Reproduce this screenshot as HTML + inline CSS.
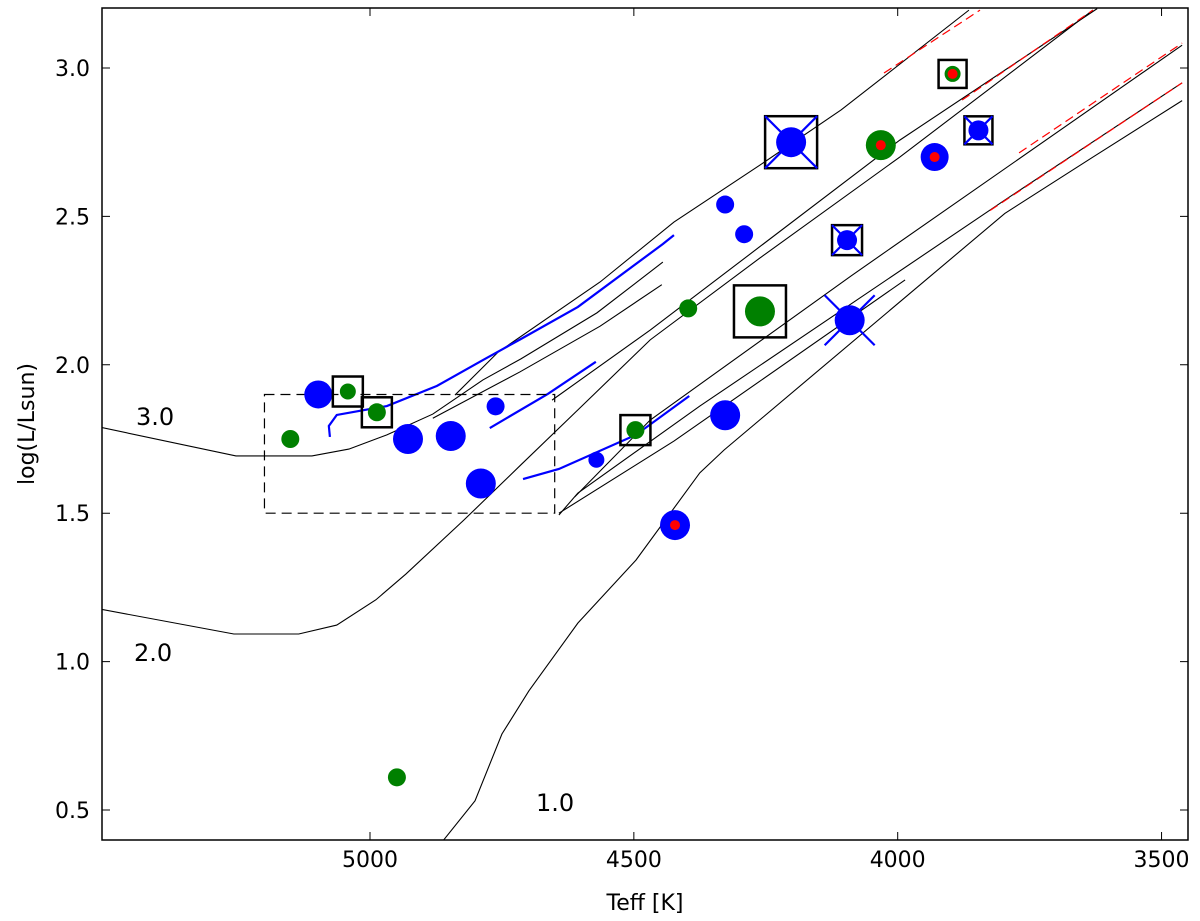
<!DOCTYPE html>
<html><head><meta charset="utf-8"><style>
body{margin:0;background:#fff;}
svg{display:block;font-family:"DejaVu Sans","Liberation Sans",sans-serif;}
</style></head><body>
<svg id="chart" width="1200" height="921" viewBox="0 0 1200 921" xmlns="http://www.w3.org/2000/svg"></svg>
<script>
const xTicks=[5000,4500,4000,3500];
const yTicks=[0.5,1.0,1.5,2.0,2.5,3.0];
const track3=[[5512,1.79],[5254,1.693],[5110,1.693],[5040,1.716],[4968,1.764],[4881,1.834],[4786,1.949],[4714,2.02],[4570,2.175],[4445,2.346]];
const track3u=[[4839,1.898],[4757,2.043],[4564,2.279],[4424,2.481],[4261,2.673],[4107,2.859],[3865,3.195]];
const track3b=[[4881,1.82],[4716,1.976],[4564,2.13],[4447,2.27]];
const track2=[[5512,1.177],[5258,1.093],[5135,1.093],[5063,1.123],[4989,1.208],[4932,1.295],[4822,1.477],[4714,1.663],[4606,1.848],[4469,2.084],[4261,2.36],[3996,2.70],[3630,3.195]];
const track2b=[[4655,1.881],[4469,2.117],[3996,2.757],[3622,3.2]];
const track1=[[4860,0.40],[4801,0.531],[4750,0.756],[4699,0.901],[4606,1.13],[4496,1.342],[4375,1.636],[4329,1.713],[3797,2.51],[3630,2.70],[3461,2.89]];
const track1b=[[4642,1.494],[4606,1.568],[4375,1.861],[3797,2.555],[3461,2.95]];
const track1c=[[4642,1.50],[4424,1.743],[3986,2.286]];
const track1d=[[4612,1.555],[4469,1.814],[4088,2.30],[3461,3.077]];
const blue1=[[5076,1.757],[5078,1.794],[5063,1.831],[4968,1.861],[4873,1.929],[4786,2.016],[4714,2.087],[4606,2.195],[4445,2.407],[4424,2.437]];
const blue2=[[4773,1.787],[4663,1.902],[4572,2.01]];
const blue3=[[4710,1.615],[4642,1.649],[4496,1.764],[4395,1.895]];
const redTracks=[[[4026,2.983],[3844,3.195]],[[3878,2.892],[3630,3.195]],[[3770,2.714],[3461,3.084]],[[3825,2.52],[3461,2.95]]];
const blueT=[5098,4928,4847,4790,4762,4571,4327,4327,4291,4202,4096,4091,3930,3847,4422];
const blueL=[1.90,1.75,1.76,1.60,1.86,1.68,1.83,2.54,2.44,2.75,2.42,2.15,2.70,2.79,1.46];
const blueR=[14,15,15,15,9,8,15,9,9,15,10,15,14,10,15];
const greenT=[5151,5042,4987,4949,4397,4261,4497,4032,3896];
const greenL=[1.75,1.91,1.84,0.61,2.19,2.18,1.78,2.74,2.98];
const greenR=[9,8,9,9,9,15,9,15,8];
const redT=[4422,4032,3930,3896];
const redL=[1.46,2.74,2.70,2.98];
const sqT=[5042,4987,4497,4202,4261,4096,3896,3847];
const sqL=[1.91,1.84,1.78,2.75,2.18,2.42,2.98,2.79];
const sqH=[15,15,15,26,26,15,14,14];
const crossT=[4202,4096,3847,4091];
const crossL=[2.75,2.42,2.79,2.15];
const crossH=[26,15,14,25];
const massLabels=["3.0","2.0","1.0"];

const L=102,R=1188,T=8,B=840;
const xs=t=>370+(5000-t)*0.5277;
const ys=v=>68+(3.0-v)*296.8;
const svg=document.getElementById('chart');
const NS='http://www.w3.org/2000/svg';
function mk(tag,at,parent){const e=document.createElementNS(NS,tag);for(const k in at)e.setAttribute(k,at[k]);(parent||svg).appendChild(e);return e;}
const cp=mk('clipPath',{id:'clip'});mk('rect',{x:L,y:T,width:R-L,height:B-T},cp);
const g=mk('g',{'clip-path':'url(#clip)'});


function line(pts,color,w,name,dash){const p=mk('polyline',{points:pts.map(q=>xs(q[0])+','+ys(q[1])).join(' '),fill:'none',stroke:color,'stroke-width':w},g);if(dash)p.setAttribute('stroke-dasharray',dash);

}
line(track3,'#000',1.1,'track-3msun');line(track3u,'#000',1.1,'track-3msun-upper');line(track3b,'#000',1.1,'track-3msun-loop');
line(track2,'#000',1.1,'track-2msun');line(track2b,'#000',1.1,'track-2msun-loop');
line(track1,'#000',1.1,'track-1msun');line(track1b,'#000',1.1,'track-1msun-branch');line(track1c,'#000',1.1,'track-1msun-loop');line(track1d,'#000',1.1,'track-1msun-upper');
line(blue1,'#0000ff',2.2,'blue-track');line(blue2,'#0000ff',2.2,'blue-track');line(blue3,'#0000ff',2.2,'blue-track');
redTracks.forEach(r=>line(r,'#ff0000',1.2,'red-dashed-track','9,5'));
const rect=mk('rect',{x:xs(5200),y:ys(1.9),width:xs(4650)-xs(5200),height:ys(1.5)-ys(1.9),fill:'none',stroke:'#000','stroke-width':1.2,'stroke-dasharray':'10,6'},g);


blueT.forEach((t,i)=>{const c=mk('circle',{cx:xs(t),cy:ys(blueL[i]),r:blueR[i],fill:'#0000ff'},g);

});
greenT.forEach((t,i)=>{const c=mk('circle',{cx:xs(t),cy:ys(greenL[i]),r:greenR[i],fill:'#008000'},g);

});
redT.forEach((t,i)=>{const c=mk('circle',{cx:xs(t),cy:ys(redL[i]),r:5,fill:'#ff0000'},g);

});
sqT.forEach((t,i)=>{const h=sqH[i];const s=mk('rect',{x:xs(t)-h,y:ys(sqL[i])-h,width:2*h,height:2*h,fill:'none',stroke:'#000','stroke-width':2.5},g);

});
crossT.forEach((t,i)=>{const h=crossH[i],x=xs(t),y=ys(crossL[i]);const p=mk('path',{d:`M${x-h},${y-h}L${x+h},${y+h}M${x-h},${y+h}L${x+h},${y-h}`,stroke:'#0000ff','stroke-width':2.2},g);

});
const fr=mk('rect',{x:L,y:T,width:R-L,height:B-T,fill:'none',stroke:'#000','stroke-width':1.5});


xTicks.forEach(t=>{const x=xs(t);mk('path',{d:`M${x},${B}v-8M${x},${T}v8`,stroke:'#000'});
const tx=mk('text',{x:x,y:B+27,'text-anchor':'middle','font-size':22});tx.textContent=t;

});
yTicks.forEach(v=>{const y=ys(v);mk('path',{d:`M${L},${y}h8M${R},${y}h-8`,stroke:'#000'});
const tx=mk('text',{x:L-12,y:y+8,'text-anchor':'end','font-size':22});tx.textContent=v.toFixed(1);

});
const pos=[[136,425],[134,661],[536,811]];
massLabels.forEach((m,i)=>{const tx=mk('text',{x:pos[i][0],y:pos[i][1],'font-size':24});tx.textContent=m;

});
const xl=mk('text',{x:645,y:910,'text-anchor':'middle','font-size':22});xl.textContent='Teff [K]';


const yl=mk('text',{x:0,y:0,'text-anchor':'middle','font-size':22,transform:'translate(34,424) rotate(-90)'});yl.textContent='log(L/Lsun)';


</script>
</body></html>
